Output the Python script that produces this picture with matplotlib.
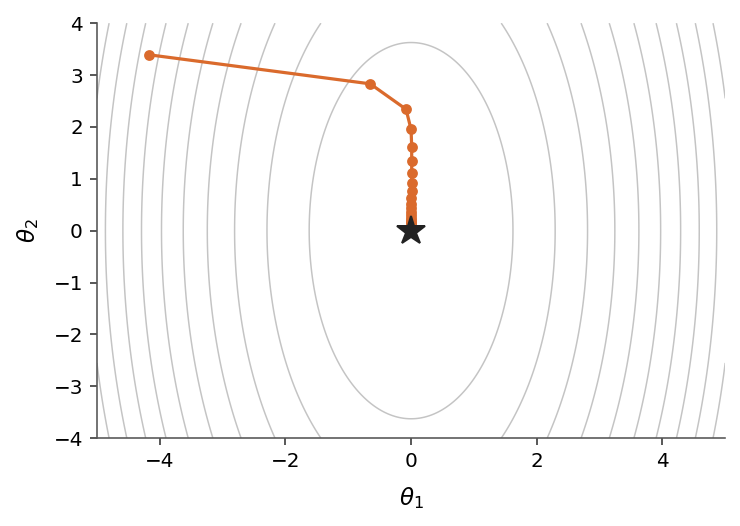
import numpy as np
import matplotlib
matplotlib.use('Agg')
from matplotlib import pyplot as plt

# trajectory of the optimiser
theta1 = [-4.17, -0.65, -0.08, 0.0, 0.01, 0.01, 0.01, 0.01, 0.01, 0.0,
          0.0, 0.0, 0.0, 0.0, 0.0, 0.0, 0.0, 0.0, 0.0, 0.0, 0.0]
theta2 = [3.39, 2.83, 2.34, 1.95, 1.62, 1.34, 1.11, 0.92, 0.76, 0.63,
          0.52, 0.43, 0.36, 0.30, 0.25, 0.21, 0.17, 0.14, 0.12, 0.10, 0.08]

# loss surface: f = t1^2 + 0.2 t2^2, contour levels step 2.63
curv = [1.0, 0.2]
level_step = 2.63
n_levels = 10

orange = '#da6a2c'

fig, ax = plt.subplots(figsize=(740 / 144, 526 / 144), dpi=144)
fig.subplots_adjust(left=0.131, right=0.98, top=0.956, bottom=0.167)

t1, t2 = np.meshgrid(np.linspace(-5, 5, 400), np.linspace(-4, 4, 400))
loss = curv[0] * t1 ** 2 + curv[1] * t2 ** 2
levels = level_step * np.arange(1, n_levels + 1)
ax.contour(t1, t2, loss, levels=levels, colors='#c4c4c4', linewidths=0.75)

ax.plot(theta1, theta2, '-o', color=orange, lw=1.6, ms=4.4)
ax.plot(0, 0, '*', color='#222222', ms=15)

ax.set_xlim(-5, 5)
ax.set_ylim(-4, 4)
ax.set_xticks([-4, -2, 0, 2, 4])
ax.set_yticks(range(-4, 5))
ax.set_xlabel(r'$\theta_1$', fontsize=11.5, labelpad=7)
ax.set_ylabel(r'$\theta_2$', fontsize=11.5, labelpad=6)

for side in ['top', 'right']:
    ax.spines[side].set_visible(False)
for side in ['left', 'bottom']:
    ax.spines[side].set_color('#555555')
ax.tick_params(labelsize=10, color='#333333')

plt.savefig('out.png', dpi=144)
